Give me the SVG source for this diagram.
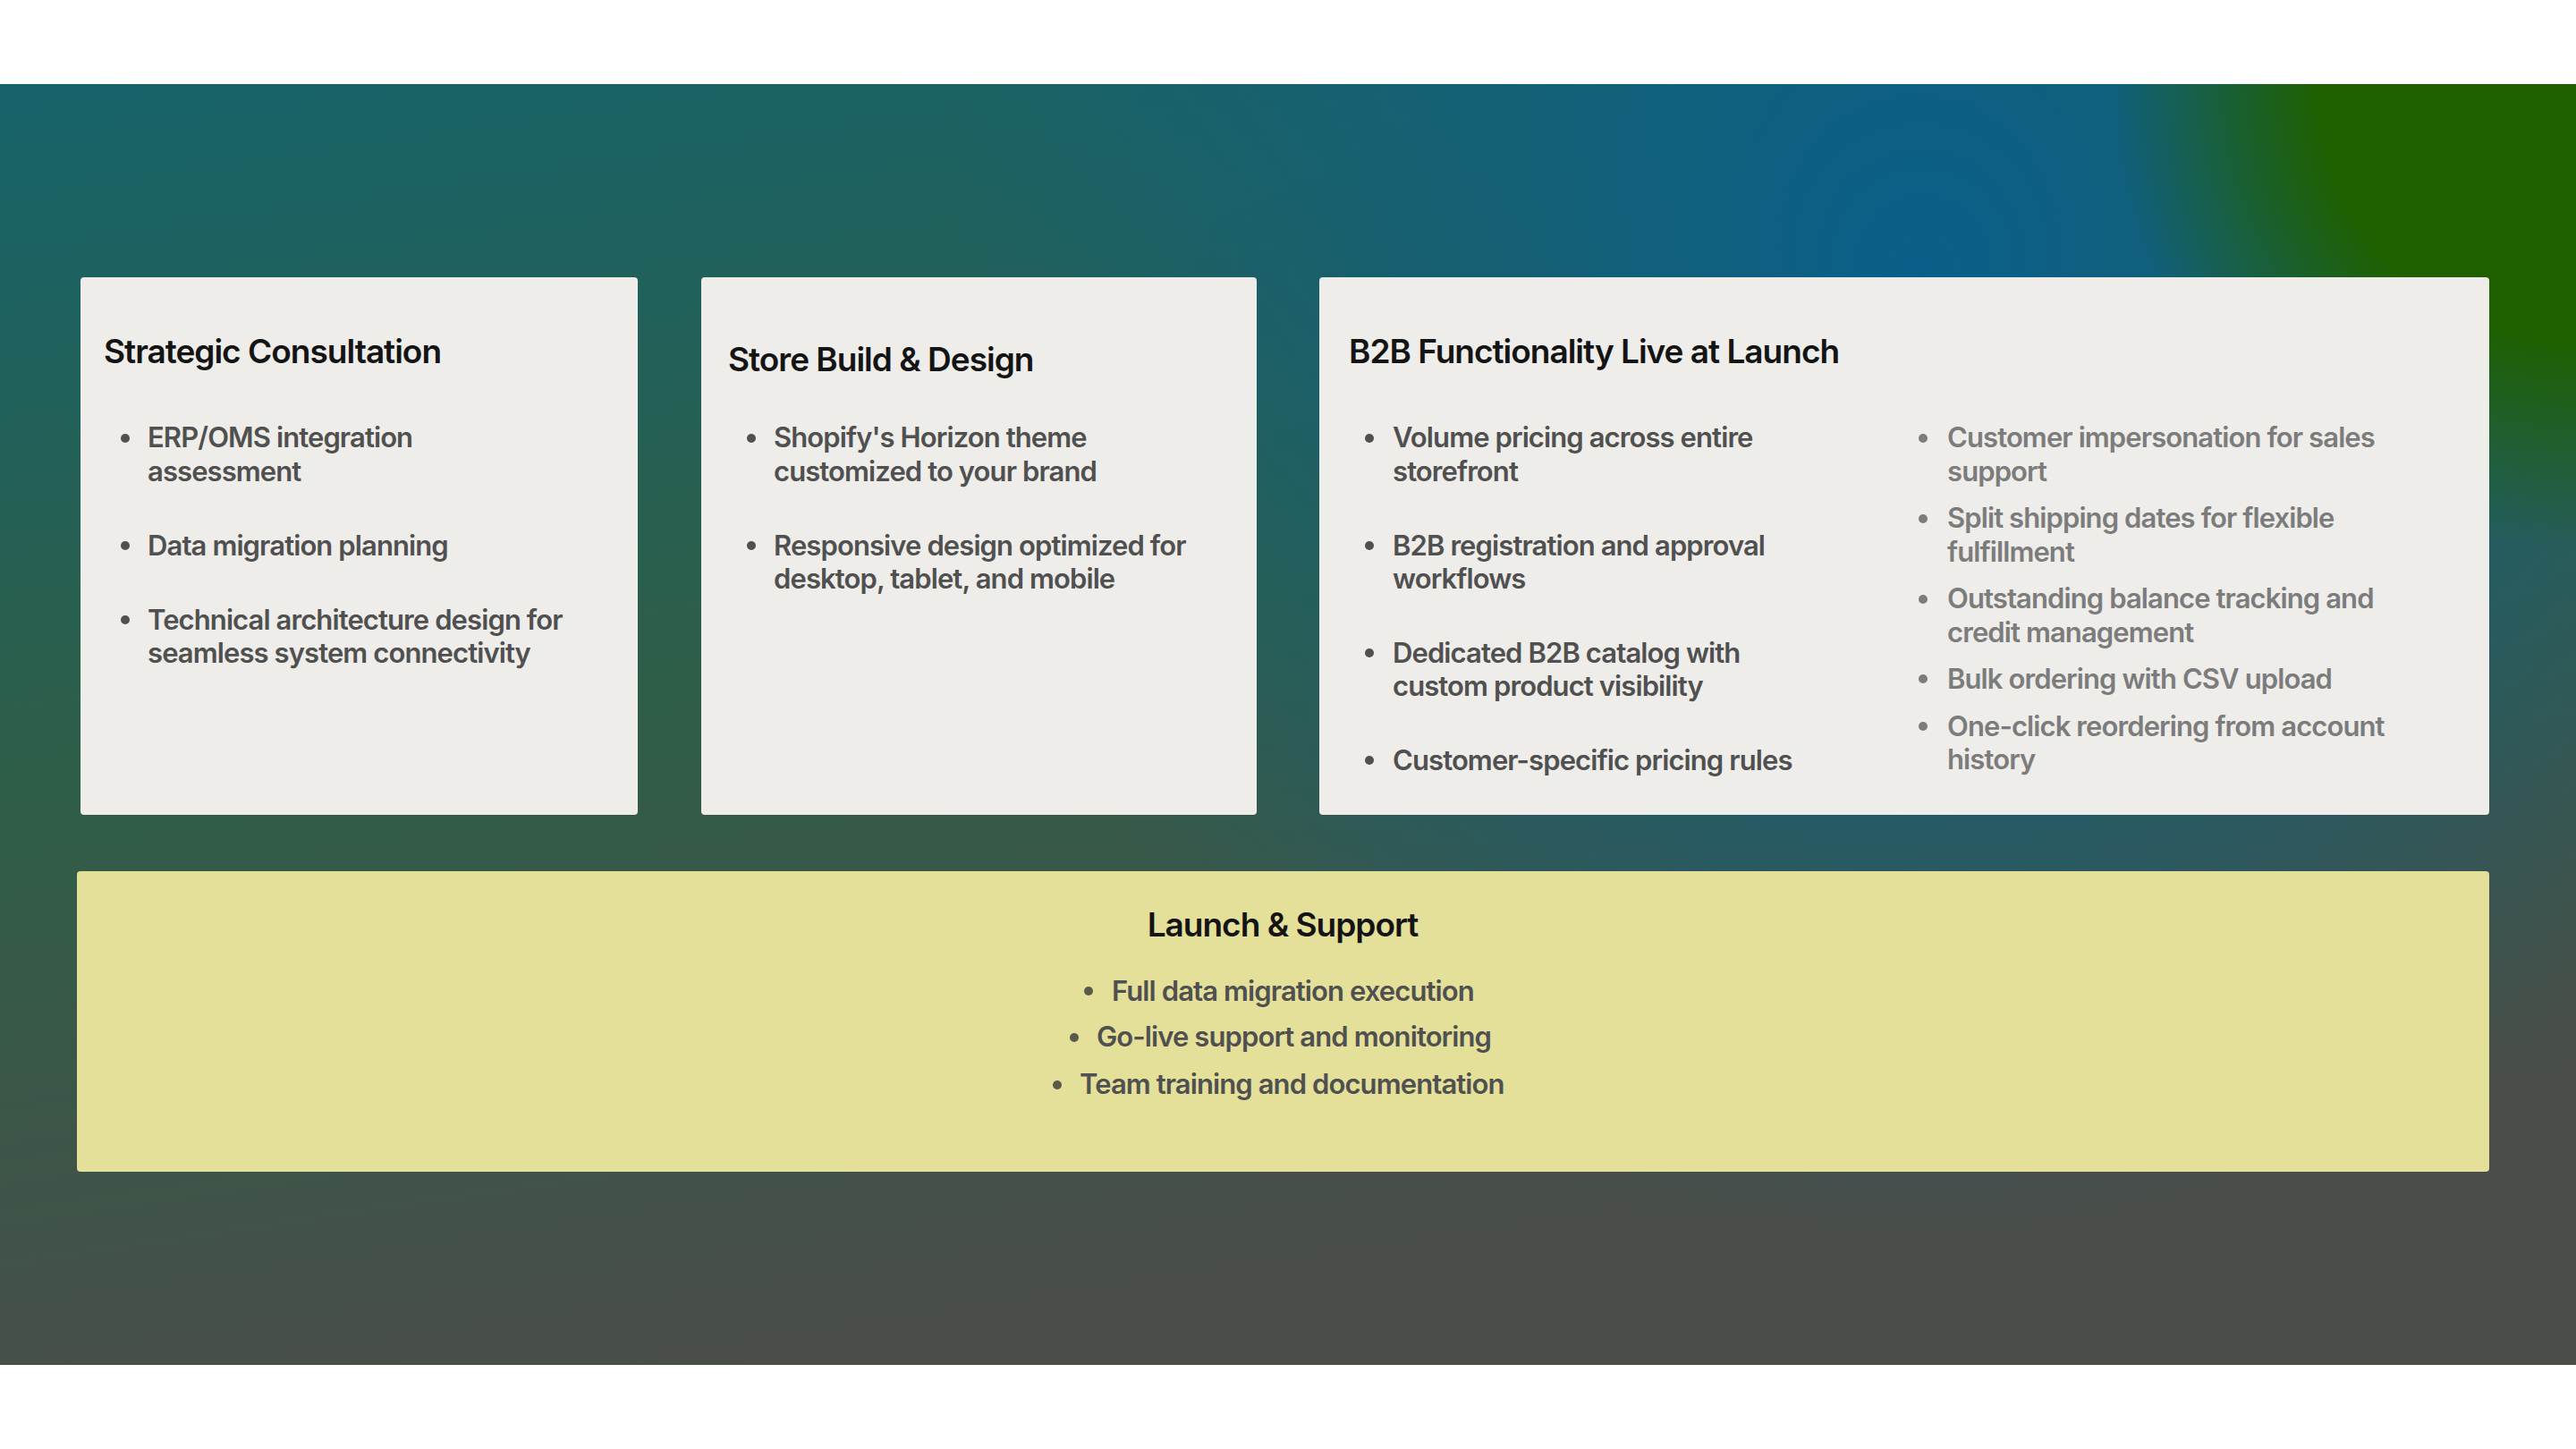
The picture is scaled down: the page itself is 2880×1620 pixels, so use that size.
<svg xmlns="http://www.w3.org/2000/svg" width="2880" height="1620" viewBox="0 0 2880 1620">
<defs>
<linearGradient id="bg" x1="0" y1="0" x2="0.3" y2="1">
<stop offset="0" stop-color="#16636a"/>
<stop offset="0.5" stop-color="#2e5e48"/>
<stop offset="1" stop-color="#4a4d48"/>
</linearGradient>
<radialGradient id="blue" cx="2150" cy="300" r="1100" gradientUnits="userSpaceOnUse">
<stop offset="0" stop-color="#0a5f8a" stop-opacity="1"/>
<stop offset="0.5" stop-color="#0a5f8a" stop-opacity="0.5"/>
<stop offset="1" stop-color="#0a5f8a" stop-opacity="0"/>
</radialGradient>
<radialGradient id="green" cx="2880" cy="94" r="520" gradientUnits="userSpaceOnUse">
<stop offset="0" stop-color="#1e6000"/>
<stop offset="0.55" stop-color="#1e6000"/>
<stop offset="1" stop-color="#1e6000" stop-opacity="0"/>
</radialGradient>
<style>
.card{fill:#eeedea}
.t{font-family:Inter,"Liberation Sans",sans-serif;font-weight:600;font-size:37px;fill:#141414;letter-spacing:-1px}
.b{font-family:Inter,"Liberation Sans",sans-serif;font-weight:600;font-size:31px;fill:#505050;letter-spacing:-0.9px}
.l{fill:#7c7c7c}
.d{fill:#505050}
.dl{fill:#7c7c7c}
</style>
</defs>
<rect x="0" y="0" width="2880" height="1620" fill="#ffffff"/>
<rect x="0" y="94" width="2880" height="1432" fill="url(#bg)"/>
<rect x="0" y="94" width="2880" height="1432" fill="url(#blue)"/>
<rect x="0" y="94" width="2880" height="1432" fill="url(#green)"/>

<g id="strategic">
<rect class="card" x="90" y="310" width="623" height="601" rx="4"/>
<text class="t" x="116" y="406">Strategic Consultation</text>
<circle class="d" cx="140" cy="490" r="5"/>
<text class="b" x="165" y="500">ERP/OMS integration</text>
<text class="b" x="165" y="538">assessment</text>
<circle class="d" cx="140" cy="610" r="5"/>
<text class="b" x="165" y="621">Data migration planning</text>
<circle class="d" cx="140" cy="693" r="5"/>
<text class="b" x="165" y="704">Technical architecture design for</text>
<text class="b" x="165" y="741">seamless system connectivity</text>
</g>

<g id="store">
<rect class="card" x="784" y="310" width="621" height="601" rx="4"/>
<text class="t" x="814" y="415">Store Build &amp; Design</text>
<circle class="d" cx="840" cy="490" r="5"/>
<text class="b" x="865" y="500">Shopify's Horizon theme</text>
<text class="b" x="865" y="538">customized to your brand</text>
<circle class="d" cx="840" cy="610" r="5"/>
<text class="b" x="865" y="621">Responsive design optimized for</text>
<text class="b" x="865" y="658">desktop, tablet, and mobile</text>
</g>

<g id="b2b">
<rect class="card" x="1475" y="310" width="1308" height="601" rx="4"/>
<text class="t" x="1508" y="406">B2B Functionality Live at Launch</text>
<circle class="d" cx="1531" cy="490" r="5"/>
<text class="b" x="1557" y="500">Volume pricing across entire</text>
<text class="b" x="1557" y="538">storefront</text>
<circle class="d" cx="1531" cy="610" r="5"/>
<text class="b" x="1557" y="621">B2B registration and approval</text>
<text class="b" x="1557" y="658">workflows</text>
<circle class="d" cx="1531" cy="730" r="5"/>
<text class="b" x="1557" y="741">Dedicated B2B catalog with</text>
<text class="b" x="1557" y="778">custom product visibility</text>
<circle class="d" cx="1531" cy="850" r="5"/>
<text class="b" x="1557" y="861">Customer-specific pricing rules</text>

<circle class="dl" cx="2150" cy="490" r="5"/>
<text class="b l" x="2177" y="500">Customer impersonation for sales</text>
<text class="b l" x="2177" y="538">support</text>
<circle class="dl" cx="2150" cy="580" r="5"/>
<text class="b l" x="2177" y="590">Split shipping dates for flexible</text>
<text class="b l" x="2177" y="628">fulfillment</text>
<circle class="dl" cx="2150" cy="670" r="5"/>
<text class="b l" x="2177" y="680">Outstanding balance tracking and</text>
<text class="b l" x="2177" y="718">credit management</text>
<circle class="dl" cx="2150" cy="759" r="5"/>
<text class="b l" x="2177" y="770">Bulk ordering with CSV upload</text>
<circle class="dl" cx="2150" cy="812" r="5"/>
<text class="b l" x="2177" y="823">One-click reordering from account</text>
<text class="b l" x="2177" y="860">history</text>
</g>

<g id="launch">
<rect x="86" y="974" width="2697" height="336" rx="4" fill="#e4e09a"/>
<text class="t" x="1434" y="1047" text-anchor="middle">Launch &amp; Support</text>
<circle fill="#5a5a4a" cx="1217" cy="1108" r="5"/>
<text class="b" x="1243" y="1119" fill="#55554a">Full data migration execution</text>
<circle fill="#5a5a4a" cx="1201" cy="1160" r="5"/>
<text class="b" x="1226" y="1170">Go-live support and monitoring</text>
<circle fill="#5a5a4a" cx="1182" cy="1213" r="5"/>
<text class="b" x="1207" y="1223">Team training and documentation</text>
</g>
</svg>
